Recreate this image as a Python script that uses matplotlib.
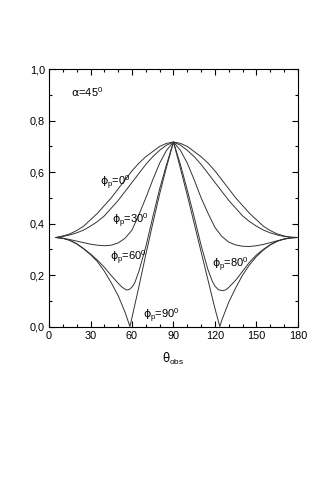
import matplotlib
matplotlib.use('Agg')
import matplotlib.pyplot as plt
from matplotlib.ticker import MultipleLocator, FuncFormatter

plt.rcParams['font.family'] = ['Liberation Sans', 'DejaVu Sans']
plt.rcParams['mathtext.fontset'] = 'custom'
plt.rcParams['mathtext.rm'] = 'Liberation Sans'
plt.rcParams['mathtext.it'] = 'DejaVu Sans'

# values
theta_a = [5, 10, 15, 20, 25, 30, 35, 40, 45, 50, 55, 60, 65, 70, 75, 80, 85, 90,
           95, 100, 105, 110, 115, 120, 125, 130, 135, 140, 145, 150, 155, 160,
           165, 170, 175, 180]
phi0 = [0.346, 0.352, 0.36, 0.373, 0.39, 0.415, 0.44, 0.47, 0.50, 0.535, 0.57,
        0.605, 0.635, 0.66, 0.68, 0.70, 0.712, 0.717,
        0.712, 0.70, 0.68, 0.66, 0.635, 0.605, 0.57, 0.535, 0.50, 0.47, 0.44,
        0.415, 0.39, 0.373, 0.36, 0.352, 0.347, 0.346]
phi30 = [0.346, 0.35, 0.356, 0.364, 0.375, 0.39, 0.408, 0.43, 0.46, 0.49, 0.525,
         0.56, 0.595, 0.63, 0.66, 0.685, 0.705, 0.717,
         0.705, 0.685, 0.66, 0.63, 0.595, 0.56, 0.525, 0.49, 0.46, 0.43, 0.408,
         0.39, 0.375, 0.364, 0.356, 0.35, 0.347, 0.346]
phi60 = [0.346, 0.343, 0.338, 0.332, 0.326, 0.32, 0.316, 0.314, 0.316, 0.325,
         0.343, 0.375, 0.435, 0.50, 0.57, 0.635, 0.685, 0.717,
         0.685, 0.635, 0.57, 0.50, 0.44, 0.385, 0.35, 0.328, 0.317, 0.312,
         0.311, 0.314, 0.319, 0.326, 0.333, 0.34, 0.344, 0.346]

theta_80 = [5, 10, 15, 20, 25, 30, 35, 40, 45, 50, 53, 56, 58, 60, 62, 65, 70,
            75, 80, 85, 90, 95, 100, 105, 110, 115, 118, 120, 122.5, 125.5, 128,
            130, 135, 140, 145, 150, 155, 160, 165, 170, 175, 180]
phi80 = [0.346, 0.343, 0.335, 0.322, 0.303, 0.282, 0.258, 0.23, 0.198, 0.168,
         0.152, 0.142, 0.144, 0.153, 0.17, 0.215, 0.31, 0.425, 0.535, 0.63, 0.717,
         0.63, 0.53, 0.425, 0.315, 0.22, 0.177, 0.157, 0.143, 0.139, 0.143,
         0.152, 0.18, 0.215, 0.25, 0.278, 0.30, 0.318, 0.332, 0.34, 0.345, 0.346]

theta_90 = [5, 10, 15, 20, 25, 30, 35, 40, 45, 50, 55, 58.5, 60, 65, 70, 75, 80,
            85, 90, 95, 100, 105, 110, 115, 120, 123.5, 125, 130, 135, 140, 145,
            150, 155, 160, 165, 170, 175, 180]
phi90 = [0.346, 0.343, 0.335, 0.321, 0.302, 0.279, 0.252, 0.215, 0.17, 0.12,
         0.055, 0.0, 0.035, 0.155, 0.28, 0.40, 0.515, 0.62, 0.717,
         0.615, 0.51, 0.40, 0.29, 0.18, 0.07, 0.0, 0.025, 0.095, 0.15, 0.20,
         0.24, 0.272, 0.297, 0.317, 0.331, 0.34, 0.345, 0.346]

fig = plt.figure(figsize=(3.27, 4.91), dpi=100)
ax = fig.add_axes([0.15, 0.335, 0.761, 0.524])

lc = '#333333'
ax.plot(theta_a, phi0, color=lc, lw=0.7)
ax.plot(theta_a, phi30, color=lc, lw=0.7)
ax.plot(theta_a, phi60, color=lc, lw=0.7)
ax.plot(theta_80, phi80, color=lc, lw=0.7)
ax.plot(theta_90, phi90, color=lc, lw=0.7)

ax.set_xlim(0, 180)
ax.set_ylim(0, 1.0)
ax.xaxis.set_major_locator(MultipleLocator(30))
ax.xaxis.set_minor_locator(MultipleLocator(10))
ax.yaxis.set_major_locator(MultipleLocator(0.2))
ax.yaxis.set_minor_locator(MultipleLocator(0.1))
ax.yaxis.set_major_formatter(FuncFormatter(lambda v, p: ('%.1f' % v).replace('.', ',')))
ax.tick_params(which='both', direction='in', top=True, right=True, labelsize=7.8, width=0.8, pad=3)
ax.tick_params(which='major', length=4)
ax.tick_params(which='minor', length=2)
for s in ax.spines.values():
    s.set_linewidth(0.8)

ax.set_xlabel(r'$\theta_{\rm obs}$', fontsize=8.5, labelpad=7)

fs = 8
ax.text(16, 0.91, r'$\alpha$=45$^0$', fontsize=fs, va='center')
ax.text(37, 0.557, r'$\phi_{\rm p}$=0$^0$', fontsize=fs, va='center')
ax.text(45.5, 0.41, r'$\phi_{\rm p}$=30$^0$', fontsize=fs, va='center')
ax.text(44, 0.265, r'$\phi_{\rm p}$=60$^0$', fontsize=fs, va='center')
ax.text(118, 0.24, r'$\phi_{\rm p}$=80$^0$', fontsize=fs, va='center')
ax.text(68, 0.04, r'$\phi_{\rm p}$=90$^0$', fontsize=fs, va='center')

fig.savefig('out.png', dpi=100)
